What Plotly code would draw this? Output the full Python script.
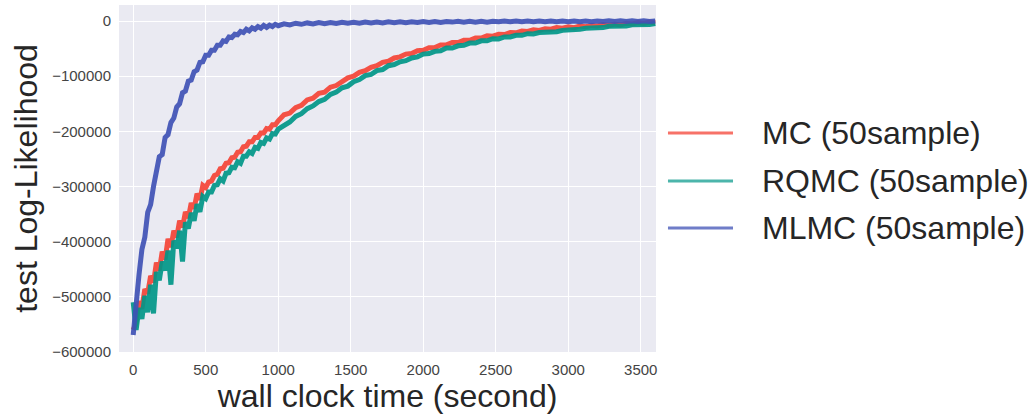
import plotly.graph_objects as go

# sample times (seconds)
time_s = list(range(0, 1001, 20)) + list(range(1040, 3601, 40))

# test log-likelihood values, in thousands
mc_k = [
    -560, -548, -508, -522, -486, -494, -462, -474, -438, -452,
    -418, -432, -395, -410, -380, -392, -362, -374, -346, -357,
    -330, -340, -313, -324, -298,
    -302, -292, -290, -280, -278, -268, -267, -258, -257, -248,
    -247, -238, -237, -228, -227, -219, -219, -211, -211, -203,
    -203, -195, -196, -188, -188, -181,
    -170, -167, -157, -153, -143, -140, -131, -129, -120, -117,
    -111, -103, -100, -93, -90, -84, -81, -75, -73, -67,
    -65, -60, -59, -54, -53, -48.5, -48, -43.5, -43, -39,
    -39, -35, -35, -31, -31, -27, -27.5, -24, -24.5, -21,
    -21.5, -18, -19, -16, -17, -14, -15, -12, -13, -10.5,
    -12, -9, -10.5, -8, -9, -6.5, -8, -5.5, -7, -4,
    -5.5, -3, -4.5, -2, -3.5,
]
rqmc_k = [
    -510, -560, -520, -540, -498, -528, -478, -530, -455, -470,
    -436, -452, -416, -478, -398, -412, -380, -436, -365, -376,
    -348, -362, -332, -346, -318,
    -322, -310, -310, -298, -297, -286, -290, -276, -275, -265,
    -266, -255, -258, -245, -245, -237, -240, -229, -231, -220,
    -222, -212, -214, -204, -205, -196,
    -189, -183, -173, -168, -159, -154, -146, -142, -133, -129,
    -121, -118, -110, -106, -99, -97, -90, -88, -81, -79,
    -74, -72, -67, -65, -60, -59, -55, -54, -49, -49,
    -45, -44, -40, -40, -36, -36, -32, -32.5, -29, -29,
    -26, -26, -23, -23.5, -21, -21, -19, -19.5, -17, -17,
    -15, -15, -13, -13, -11, -12, -9.5, -10, -8.5, -9,
    -7, -7.5, -6, -6.5, -4.5,
]
mlmc_k = [
    -569, -505, -460, -414, -392, -347, -333, -300, -277, -246,
    -242, -211, -206, -184, -176, -156, -150, -130, -127, -109,
    -107, -92, -89, -75, -74, -62, -62, -53, -53, -44,
    -44, -36, -37, -29, -30, -24, -25, -19, -21, -15,
    -18, -12.5, -15, -10, -13, -8, -11.5, -7.5, -10, -6,
    -8.5,
    -5, -7, -4, -6, -3.5, -5.5, -3, -5, -3, -4.5,
    -2.5, -4, -2.5, -4, -2, -3.5, -2, -3.5, -1.5, -3,
    -1.5, -3, -1.5, -2.5, -1, -2.5, -1, -2.5, -1, -2,
    -0.5, -2, -0.5, -2, -0.5, -2, -0.5, -1.5, 0, -1.5,
    0, -1.5, 0, -1.5, 0, -1.5, 0, -1.5, 0, -1.5,
    0, -1.5, 0, -1.5, 0, -1, 0.5, -1, 0.5, -1,
    0.5, -1, 0.5, -1, 0,
]

series_names = ["MC (50sample)", "RQMC (50sample)", "MLMC (50sample)"]
series_colors = ["rgba(244,67,54,0.92)", "rgba(0,150,136,0.92)", "rgba(63,81,181,0.92)"]
series_widths = [5, 5, 5]
legend_colors = ["rgba(244,67,54,0.75)", "rgba(0,150,136,0.7)", "rgba(63,81,181,0.75)"]

x_ticks = [0, 500, 1000, 1500, 2000, 2500, 3000, 3500]
y_ticks = [-600000, -500000, -400000, -300000, -200000, -100000, 0]
y_tick_text = ["\u2212600000", "\u2212500000", "\u2212400000", "\u2212300000",
               "\u2212200000", "\u2212100000", "0"]

for s in (mc_k, rqmc_k, mlmc_k):
    assert len(s) == len(time_s), (len(s), len(time_s))

fig = go.Figure()
for name, vals, col, w in zip(series_names, [mc_k, rqmc_k, mlmc_k], series_colors, series_widths):
    fig.add_trace(go.Scatter(
        x=time_s, y=[v * 1000 for v in vals], mode="lines", name=name,
        line=dict(color=col, width=w), showlegend=False,
    ))

FONT = "Liberation Sans, Arial, Helvetica, sans-serif"

# legend drawn at the right of the plot
leg_y = [0.631, 0.493, 0.357]
for name, col, yy in zip(series_names, legend_colors, leg_y):
    fig.add_shape(type="line", xref="paper", yref="paper",
                  x0=1.0223, x1=1.1434, y0=yy, y1=yy,
                  line=dict(color=col, width=3))
    fig.add_annotation(xref="paper", yref="paper", x=1.1937, y=yy,
                       text=name, showarrow=False, xanchor="left", yanchor="middle",
                       font=dict(family=FONT, size=32, color="#262626"))

fig.update_layout(
    width=1033, height=415,
    margin=dict(l=119, r=377, t=5, b=63),
    paper_bgcolor="white", plot_bgcolor="#EAEAF2",
    font=dict(family=FONT, color="#262626"),
    showlegend=False,
)
fig.update_xaxes(
    range=[-98, 3605], tickvals=x_ticks, showgrid=True, gridcolor="white", gridwidth=1.3,
    zeroline=False, showline=False, ticks="outside", ticklen=4, tickcolor="rgba(0,0,0,0)",
    automargin=False,
    tickfont=dict(family=FONT, size=15, color="#444"),
    title=dict(text="wall clock time (second)", standoff=0,
               font=dict(family=FONT, size=32, color="#262626")),
)
fig.update_yaxes(
    range=[-600000, 29000], tickvals=y_ticks, ticktext=y_tick_text,
    showgrid=True, gridcolor="white", gridwidth=1.3,
    zeroline=False, showline=False, ticks="outside", ticklen=4, tickcolor="rgba(0,0,0,0)",
    automargin=False,
    tickfont=dict(family=FONT, size=15, color="#444"),
    title=dict(text="test Log-Likelihood", standoff=4,
               font=dict(family=FONT, size=32, color="#262626")),
)

fig.write_html("out.html",
               config={"displayModeBar": False},
               post_script="document.body.style.margin='0';document.body.style.overflow='hidden';")
